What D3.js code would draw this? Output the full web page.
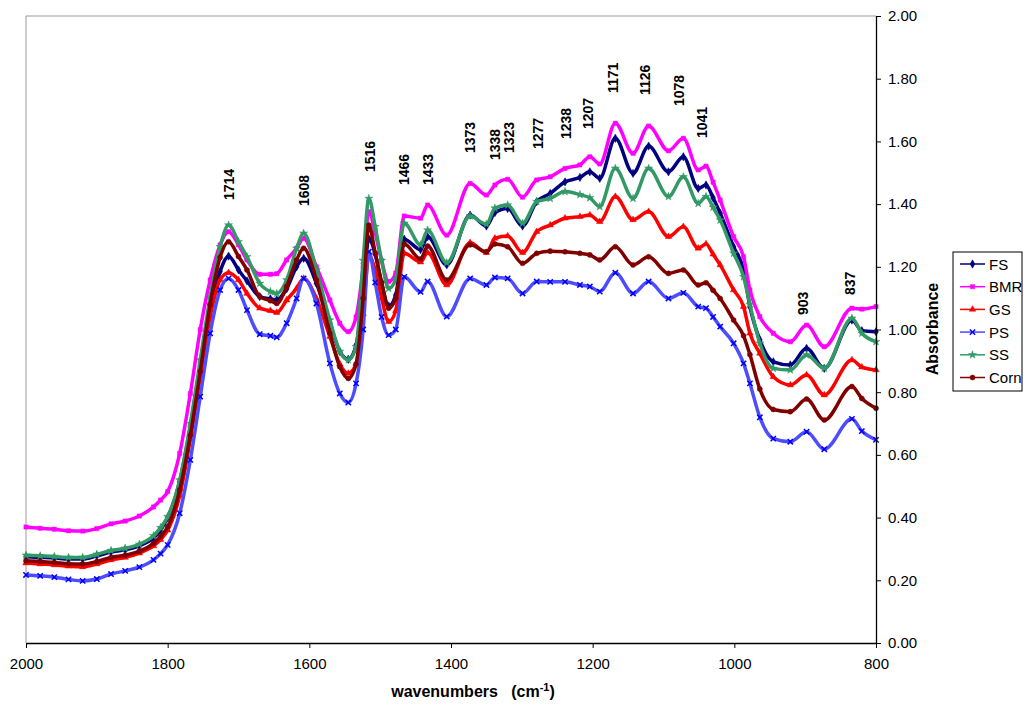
<!DOCTYPE html>
<html>
<head>
<meta charset="utf-8">
<script src="https://cdn.jsdelivr.net/npm/d3@7"></script>
<style>
  body { margin: 0; background: #fff; }
  svg text { font-family: "Liberation Sans", Arial, sans-serif; }
</style>
</head>
<body>
<div id="chart"></div>
<script>
// wavenumber grid (cm-1)
var wavenumbers = [2000,1980,1960,1940,1920,1900,1880,1860,1840,1820,1810,1800,1783,1768,1754,1740,1726,1714,1700,1688,
  1670,1655,1646,1632,1618,1608,1590,1571,1557,1545,1534,1524,1516,1507,1498,1488,1478,1466,1443,1433,
  1406,1373,1350,1338,1320,1299,1279,1260,1239,1218,1204,1190,1168,1143,1121,1093,1072,1051,1040,1030,
  1020,1001,987,978,964,945,921,898,873,834,820,800];

var fsValues = [.275,.273,.271,.268,.268,.278,.29,.297,.31,.335,.36,.40,.515,.69,.885,1.06,1.185,1.234,1.19,1.155,
  1.105,1.098,1.095,1.13,1.20,1.227,1.147,1.02,.93,.905,.95,1.12,1.29,1.24,1.15,1.075,1.11,1.288,1.255,1.296,
  1.206,1.365,1.33,1.373,1.386,1.33,1.408,1.434,1.471,1.485,1.503,1.482,1.61,1.498,1.585,1.503,1.551,1.45,1.461,1.42,
  1.371,1.264,1.19,1.073,.967,.897,.887,.94,.876,1.03,.996,.993];

var bmrValues = [.37,.366,.363,.358,.357,.365,.38,.389,.405,.434,.456,.483,.605,.796,1.0,1.158,1.27,1.312,1.27,1.222,
  1.176,1.176,1.178,1.222,1.259,1.291,1.2,1.094,1.02,.993,1.04,1.20,1.376,1.308,1.22,1.153,1.18,1.362,1.355,1.397,
  1.301,1.466,1.429,1.461,1.479,1.422,1.477,1.487,1.514,1.525,1.551,1.528,1.658,1.562,1.649,1.57,1.61,1.509,1.521,1.47,
  1.413,1.296,1.232,1.126,1.041,.988,.961,1.014,.945,1.068,1.065,1.073];

var gsValues = [.255,.252,.249,.245,.243,.252,.265,.273,.287,.31,.33,.36,.47,.65,.85,1.041,1.158,1.181,1.158,1.115,
  1.068,1.06,1.054,1.094,1.131,1.163,1.099,.977,.89,.86,.89,1.05,1.235,1.19,1.10,1.025,1.06,1.243,1.215,1.245,
  1.142,1.277,1.245,1.291,1.298,1.245,1.312,1.333,1.355,1.36,1.365,1.344,1.424,1.35,1.376,1.296,1.328,1.259,1.273,1.24,
  1.206,1.126,1.073,.988,.924,.849,.823,.855,.791,.903,.88,.871];

var psValues = [.217,.214,.21,.203,.198,.204,.22,.23,.242,.265,.285,.313,.414,.584,.786,.988,1.126,1.163,1.126,1.062,
  .985,.98,.975,1.02,1.099,1.163,1.083,.892,.796,.767,.828,1.0,1.248,1.15,1.04,.982,1.0,1.168,1.12,1.153,
  1.041,1.163,1.142,1.166,1.163,1.115,1.153,1.152,1.152,1.142,1.137,1.121,1.181,1.115,1.153,1.099,1.117,1.073,1.068,1.04,
  1.009,.956,.892,.828,.72,.652,.642,.674,.618,.715,.676,.648];

var ssValues = [.28,.278,.276,.273,.273,.283,.295,.302,.315,.342,.368,.403,.52,.70,.903,1.105,1.264,1.333,1.28,1.232,
  1.147,1.121,1.115,1.158,1.259,1.307,1.19,1.03,.93,.903,.945,1.22,1.418,1.328,1.22,1.131,1.16,1.339,1.27,1.317,
  1.213,1.362,1.336,1.387,1.397,1.339,1.408,1.418,1.44,1.43,1.42,1.392,1.514,1.418,1.514,1.424,1.487,1.402,1.424,1.39,
  1.349,1.243,1.168,1.08,.956,.876,.871,.919,.876,1.036,.988,.961];

var cornValues = [.262,.26,.257,.253,.252,.26,.273,.28,.293,.318,.34,.371,.488,.663,.866,1.08,1.23,1.28,1.233,1.19,
  1.105,1.092,1.083,1.137,1.222,1.259,1.158,.988,.881,.844,.89,1.10,1.333,1.244,1.15,1.068,1.10,1.273,1.225,1.266,
  1.158,1.27,1.248,1.273,1.264,1.211,1.243,1.25,1.248,1.243,1.238,1.222,1.264,1.206,1.232,1.179,1.19,1.142,1.149,1.125,
  1.099,1.03,.98,.92,.81,.745,.738,.778,.711,.818,.78,.749];

var seriesNames = ["FS", "BMR", "GS", "PS", "SS", "Corn"];
var seriesValues = [fsValues, bmrValues, gsValues, psValues, ssValues, cornValues];

// peak labels
var peakLabels = [1714, 1608, 1516, 1466, 1433, 1373, 1338, 1323, 1277, 1238, 1207, 1171, 1126, 1078, 1041, 903, 837];
var peakLabelBottoms = [200, 206, 172, 185, 185, 153, 160, 153, 149, 139, 129, 93, 95, 106, 138, 315, 295];

var xTicks = [2000, 1800, 1600, 1400, 1200, 1000, 800];
var yTicks = [0, 0.2, 0.4, 0.6, 0.8, 1.0, 1.2, 1.4, 1.6, 1.8, 2.0];

var width = 1028, height = 707;
var plot = { left: 26, right: 876, top: 16, bottom: 643 };

var colors = ["#000080", "#ff00ff", "#ff0000", "#0000ff", "#339966", "#800000"];
var lineColors = ["#000080", "#ff00ff", "#ff0000", "#4d4dff", "#339966", "#800000"];
var symbols = [d3.symbolDiamond, d3.symbolSquare, d3.symbolTriangle, d3.symbolTimes || d3.symbolCross, d3.symbolStar, d3.symbolCircle];
var symbolSizes = [20, 18, 18, 20, 20, 20];

var x = d3.scaleLinear().domain([2000, 800]).range([plot.left, plot.right]);
var y = d3.scaleLinear().domain([0, 2]).range([plot.bottom, plot.top]);

var svg = d3.select("#chart").append("svg")
    .attr("width", width)
    .attr("height", height);

// grey frame on top and left of the plot area
svg.append("line")
    .attr("x1", plot.left).attr("x2", plot.right)
    .attr("y1", plot.top).attr("y2", plot.top)
    .attr("stroke", "#999").attr("stroke-width", 1);
svg.append("line")
    .attr("x1", plot.left).attr("x2", plot.left)
    .attr("y1", plot.top).attr("y2", plot.bottom)
    .attr("stroke", "#999").attr("stroke-width", 1);

var line = d3.line()
    .x(function (d) { return x(d[0]); })
    .y(function (d) { return y(d[1]); })
    .curve(d3.curveMonotoneX);

seriesValues.forEach(function (vals, i) {
    var pts = wavenumbers.map(function (w, j) { return [w, vals[j]]; });
    var g = svg.append("g").attr("class", "series");
    g.append("path")
        .datum(pts)
        .attr("d", line)
        .attr("fill", "none")
        .attr("stroke", lineColors[i])
        .attr("stroke-width", 3.5);
    var sym = d3.symbol().type(symbols[i]).size(symbolSizes[i]);
    var stroked = symbols[i] === d3.symbolTimes;
    g.selectAll("path.mk")
        .data(pts)
        .enter()
        .append("path")
        .attr("class", "mk")
        .attr("d", sym)
        .attr("transform", function (d) { return "translate(" + x(d[0]) + "," + y(d[1]) + ")"; })
        .attr("fill", stroked ? "none" : colors[i])
        .attr("stroke", colors[i])
        .attr("stroke-width", stroked ? 1.5 : 0.5);
});

// axes
var xAxis = svg.append("g")
    .attr("transform", "translate(0," + plot.bottom + ")")
    .call(d3.axisBottom(x).tickValues(xTicks).tickSize(5).tickPadding(10).tickSizeOuter(0).tickFormat(d3.format("d")));
var yAxis = svg.append("g")
    .attr("transform", "translate(" + plot.right + ",0)")
    .call(d3.axisRight(y).tickValues(yTicks).tickSize(5).tickPadding(7).tickSizeOuter(0).tickFormat(d3.format(".2f")));

[xAxis, yAxis].forEach(function (ax) {
    ax.select(".domain").attr("stroke", "#000").attr("stroke-width", 1.3);
    ax.selectAll(".tick line").attr("stroke", "#000");
    ax.selectAll(".tick text")
        .attr("fill", "#000")
        .style("font-size", "15px")
        .style("font-family", "'Liberation Sans', Arial, sans-serif");
});

// axis titles
var xTitle = svg.append("text")
    .attr("x", 473)
    .attr("y", 697)
    .attr("text-anchor", "middle")
    .style("font-size", "16px")
    .style("font-weight", "bold");
xTitle.append("tspan").text("wavenumbers\u00a0\u00a0\u00a0(cm");
xTitle.append("tspan").attr("dy", -6).style("font-size", "11px").text("-1");
xTitle.append("tspan").attr("dy", 6).text(")");

svg.append("text")
    .attr("transform", "translate(938,329) rotate(-90)")
    .attr("text-anchor", "middle")
    .style("font-size", "16px")
    .style("font-weight", "bold")
    .text("Absorbance");

// peak labels (Excel places a few of them a little off their wavenumber)
var labelNudge = { 1323: 3, 1516: 1, 1041: -3 };
svg.selectAll("text.peak")
    .data(peakLabels)
    .enter()
    .append("text")
    .attr("class", "peak")
    .attr("transform", function (d, i) {
        var dx = labelNudge[d] || 0;
        return "translate(" + (x(d) + 5 + dx) + "," + peakLabelBottoms[i] + ") rotate(-90)";
    })
    .style("font-size", "14px")
    .style("font-weight", "bold")
    .text(function (d) { return d; });

// legend
var legend = svg.append("g").attr("transform", "translate(953,252)");
legend.append("rect")
    .attr("width", 69)
    .attr("height", 139)
    .attr("fill", "#fff")
    .attr("stroke", "#000");
seriesNames.forEach(function (name, i) {
    var ly = 12 + i * 22.7;
    legend.append("line")
        .attr("x1", 7).attr("x2", 32)
        .attr("y1", ly).attr("y2", ly)
        .attr("stroke", lineColors[i]).attr("stroke-width", 1.5);
    var stroked = symbols[i] === d3.symbolTimes;
    legend.append("path")
        .attr("d", d3.symbol().type(symbols[i]).size(symbolSizes[i])())
        .attr("transform", "translate(19.5," + ly + ")")
        .attr("fill", stroked ? "none" : colors[i])
        .attr("stroke", colors[i])
        .attr("stroke-width", stroked ? 1.5 : 0.5);
    legend.append("text")
        .attr("x", 36)
        .attr("y", ly + 5.5)
        .style("font-size", "15px")
        .text(name);
});
</script>
</body>
</html>
